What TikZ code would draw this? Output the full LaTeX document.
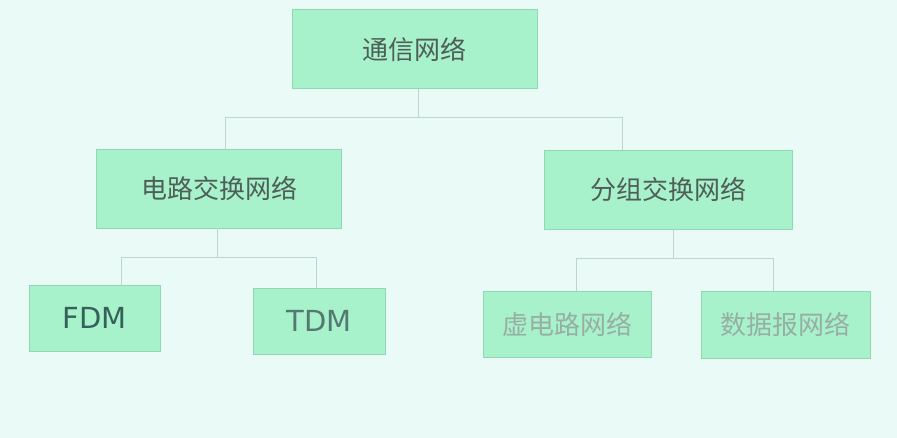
\documentclass[tikz,border=0pt]{standalone}
\usepackage{fontspec}
\newfontfamily\cjk{Noto Sans CJK SC}
\newfontfamily\comic{DejaVu Sans}

\definecolor{slidebg}{HTML}{EAFAF6}
\definecolor{boxfill}{HTML}{A8F2CB}
\definecolor{boxline}{HTML}{8FD9B2}
\definecolor{linkgray}{HTML}{BCD6CC}
\definecolor{textdark}{HTML}{4E5E58}
\definecolor{textpale}{HTML}{97AEA5}
\definecolor{textcode}{HTML}{35615A}

\begin{document}
\begin{tikzpicture}[x=1pt,y=1pt]
    % --- Dimensions ---
    \def\PicW{897}      % picture width
    \def\PicH{438}      % picture height
    \def\Drop{29}       % length of the drop from a box to its bus line

    % --- Styles ---
    \tikzset{
        tree box/.style={
            draw=boxline,
            fill=boxfill,
            line width=0.8pt,
            inner sep=0pt
        },
        upper box/.style={
            tree box,
            minimum width=245pt,
            minimum height=79pt,
            font=\cjk\fontsize{26}{30}\selectfont,
            text=textdark
        },
        lower box/.style={
            tree box,
            minimum height=66pt,
            font=\cjk\fontsize{26}{30}\selectfont
        },
        code text/.style={font=\comic\fontsize{29}{32}\selectfont},
        link/.style={
            draw=linkgray,
            line width=0.9pt
        }
    }

    % =========================================================
    % 1) BACKGROUND
    % =========================================================
    \fill[slidebg] (0,0) rectangle (\PicW,\PicH);
    \useasboundingbox (0,0) rectangle (\PicW,\PicH);

    % =========================================================
    % 2) BOXES
    % =========================================================
    % --- Top level ---
    \node[upper box] (root) at (414.5,389) {通信网络};

    % --- Second level ---
    \node[upper box] (circ) at (219,249.5) {电路交换网络};
    \node[upper box, minimum width=248pt] (pack) at (668,248.5) {分组交换网络};

    % --- Third level ---
    \node[lower box, minimum width=131pt, text=textcode, code text] (fdm) at (94.5,120) {FDM};
    \node[lower box, minimum width=132pt, text=textcode!85, code text] (tdm) at (319,117) {TDM};
    \node[lower box, minimum width=168pt, text=textpale] (vc) at (567,114) {虚电路网络};
    \node[lower box, minimum width=169pt, minimum height=67pt,
          text=textpale] (dg) at (785.5,113.5) {数据报网络};

    % =========================================================
    % 3) CONNECTORS
    % =========================================================
    % root -> second level
    \draw[link] ([xshift=3.5pt]root.south) -- ++(0,-\Drop) -| ([xshift=6pt]circ.north);
    \draw[link] ([xshift=3.5pt]root.south) -- ++(0,-\Drop) -| ([xshift=-46pt]pack.north);

    % circuit switching -> FDM / TDM
    \draw[link] ([xshift=-2pt]circ.south) -- ++(0,-\Drop) -| ([xshift=26.5pt]fdm.north);
    \draw[link] ([xshift=-2pt]circ.south) -- ++(0,-\Drop) -| ([xshift=-3pt]tdm.north);

    % packet switching -> virtual circuit / datagram
    \draw[link] ([xshift=5pt]pack.south) -- ++(0,-\Drop) -| ([xshift=9pt]vc.north);
    \draw[link] ([xshift=5pt]pack.south) -- ++(0,-\Drop) -| ([xshift=-12.5pt]dg.north);

\end{tikzpicture}
\end{document}
